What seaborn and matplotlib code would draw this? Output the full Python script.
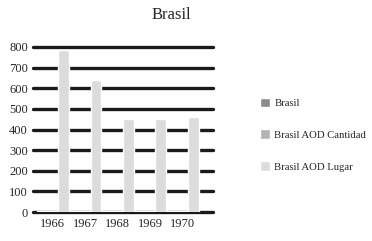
import matplotlib
matplotlib.use("Agg")
import matplotlib.pyplot as plt
import seaborn as sns
import pandas as pd

years = ["1966", "1967", "1968", "1969", "1970"]
series = ["Brasil", "Brasil AOD Cantidad", "Brasil AOD Lugar"]
brasil = [6, 6, 6, 6, 6]
aod_cantidad = [4, 4, 4, 4, 4]
aod_lugar = [785, 640, 450, 450, 460]
colors = ["#8c8c8e", "#b4b4b6", "#dcdcdc"]

df = pd.DataFrame({
    "year": years * 3,
    "serie": [s for s in series for _ in years],
    "valor": brasil + aod_cantidad + aod_lugar,
})

sns.set_style("white")
plt.rcParams["font.family"] = ["Liberation Serif", "DejaVu Serif"]

fig = plt.figure(figsize=(3.72, 2.41), dpi=100)
ax = fig.add_axes([0.09, 0.12, 0.483, 0.685])

sns.barplot(data=df, x="year", y="valor", hue="serie", palette=colors,
            width=1.0, ax=ax, legend=True, zorder=3)

ax.set_ylim(0, 800)
ax.set_xlim(-0.6, 4.95)
ax.set_yticks(range(0, 801, 100))
for y in range(0, 801, 100):
    ax.axhline(y, color="#1a1a1a", lw=2.4, zorder=1, clip_on=False)
for s in ax.spines.values():
    s.set_visible(False)
ax.tick_params(axis="both", length=0, labelsize=9, pad=4)
ax.set_xlabel("")
ax.set_ylabel("")

handles, labels = ax.get_legend_handles_labels()
ax.get_legend().remove()
fig.legend(handles, labels, loc="upper left", bbox_to_anchor=(0.7, 0.595),
           frameon=False, fontsize=7.7, handlelength=0.9, handleheight=1.0,
           labelspacing=2.0, handletextpad=0.4, borderaxespad=0, borderpad=0)

fig.suptitle("Brasil", x=0.46, y=0.97, fontsize=12)
fig.savefig("out.png", dpi=100)
